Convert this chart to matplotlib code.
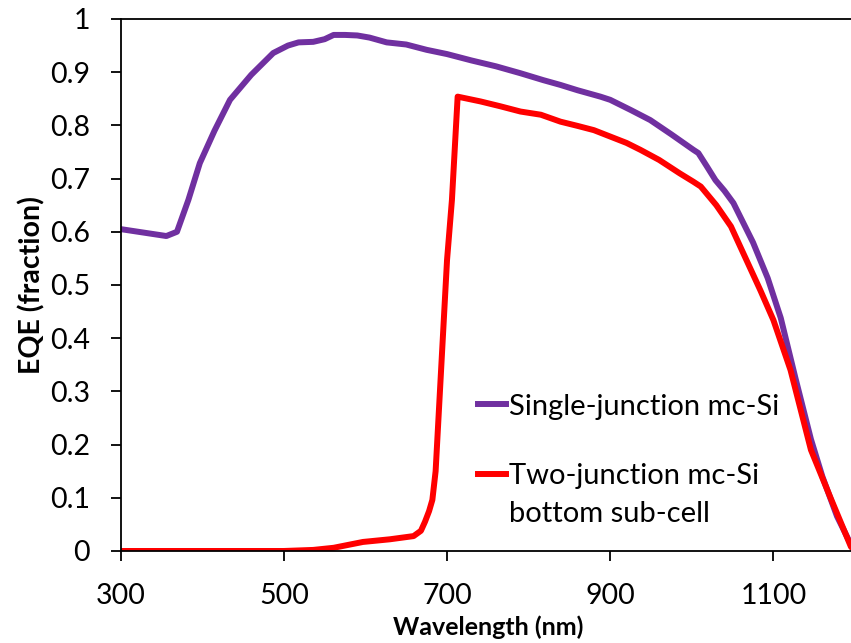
import matplotlib
matplotlib.use("Agg")
import matplotlib.pyplot as plt

plt.rcParams['font.family'] = ['Lato', 'DejaVu Sans']

# single-junction mc-Si EQE
wl_single = [300, 356, 369, 383, 397, 415, 434, 460, 487, 505, 518, 536, 550, 561, 575,
             590, 605, 626, 650, 675, 700, 730, 760, 790, 818, 839, 860, 888, 900, 925,
             949, 975, 1002, 1008, 1018, 1029, 1040, 1051, 1075, 1093, 1109, 1127, 1146,
             1160, 1178, 1195, 1200]
eqe_single = [0.605, 0.592, 0.600, 0.66, 0.729, 0.79, 0.848, 0.895, 0.936, 0.950, 0.956,
              0.957, 0.962, 0.970, 0.970, 0.969, 0.965, 0.956, 0.952, 0.942, 0.934, 0.922,
              0.911, 0.898, 0.885, 0.876, 0.866, 0.854, 0.848, 0.829, 0.810, 0.783, 0.754,
              0.748, 0.724, 0.697, 0.677, 0.654, 0.58, 0.513, 0.438, 0.325, 0.21, 0.14,
              0.065, 0.012, 0.0]

# two-junction bottom sub-cell EQE
wl_two = [300, 500, 536, 561, 597, 630, 659, 668, 673, 678, 682, 686, 700, 706, 713, 741,
          765, 790, 815, 839, 860, 880, 900, 920, 937, 960, 985, 1002, 1011, 1030, 1048,
          1066, 1084, 1100, 1121, 1146, 1170, 1195, 1200]
eqe_two = [0, 0, 0.002, 0.006, 0.017, 0.022, 0.028, 0.038, 0.055, 0.075, 0.096, 0.15,
           0.547, 0.66, 0.854, 0.845, 0.836, 0.826, 0.82, 0.807, 0.799, 0.791, 0.779,
           0.767, 0.754, 0.735, 0.71, 0.694, 0.685, 0.65, 0.61, 0.55, 0.49, 0.434, 0.34,
           0.19, 0.1, 0.008, 0.0]

labels = ["Single-junction mc-Si", "Two-junction mc-Si"]
label_extra = "bottom sub-cell"
x_ticks = [300, 500, 700, 900, 1100]
y_ticks = [0, 0.1, 0.2, 0.3, 0.4, 0.5, 0.6, 0.7, 0.8, 0.9, 1]
y_tick_labels = ["0", "0.1", "0.2", "0.3", "0.4", "0.5", "0.6", "0.7", "0.8", "0.9", "1"]

fig = plt.figure(figsize=(8.51, 6.43), dpi=100)
ax = fig.add_axes([0.1418, 0.1431, 0.8629, 0.8274])

ax.plot(wl_single, eqe_single, color='#7030A0', lw=4.3, label=labels[0])
ax.plot(wl_two, eqe_two, color='#FF0000', lw=4.3, label=labels[1])

ax.set_xlim(300, 1200)
ax.set_ylim(0, 1)
ax.set_xticks(x_ticks)
ax.set_yticks(y_ticks)
ax.set_yticklabels(y_tick_labels)
ax.tick_params(axis='both', direction='out', length=7, width=1.3, labelsize=20.5)
ax.tick_params(axis='y', pad=15)
ax.tick_params(axis='x', pad=16)
for s in ['top', 'left', 'bottom']:
    ax.spines[s].set_linewidth(1.3)
ax.spines['right'].set_visible(False)

ax.set_xlabel('Wavelength (nm)', fontsize=18, fontweight='bold', labelpad=5)
ax.set_ylabel('EQE (fraction)', fontsize=20.5, fontweight='bold', labelpad=3)

leg = ax.legend(loc='upper left', bbox_to_anchor=(0.4866, 0.296), frameon=False,
                fontsize=21, handlelength=0.95, handletextpad=0.12, labelspacing=1.5,
                borderaxespad=0, borderpad=0)

# second line of the red label, placed under its first line
fig.canvas.draw()
bb = leg.get_texts()[1].get_window_extent()
W, H = fig.get_size_inches() * fig.dpi
fig.text(bb.x0 / W, (bb.y0 - 38) / H, label_extra, fontsize=21, va='bottom', ha='left')

fig.savefig('out.png', dpi=100)
